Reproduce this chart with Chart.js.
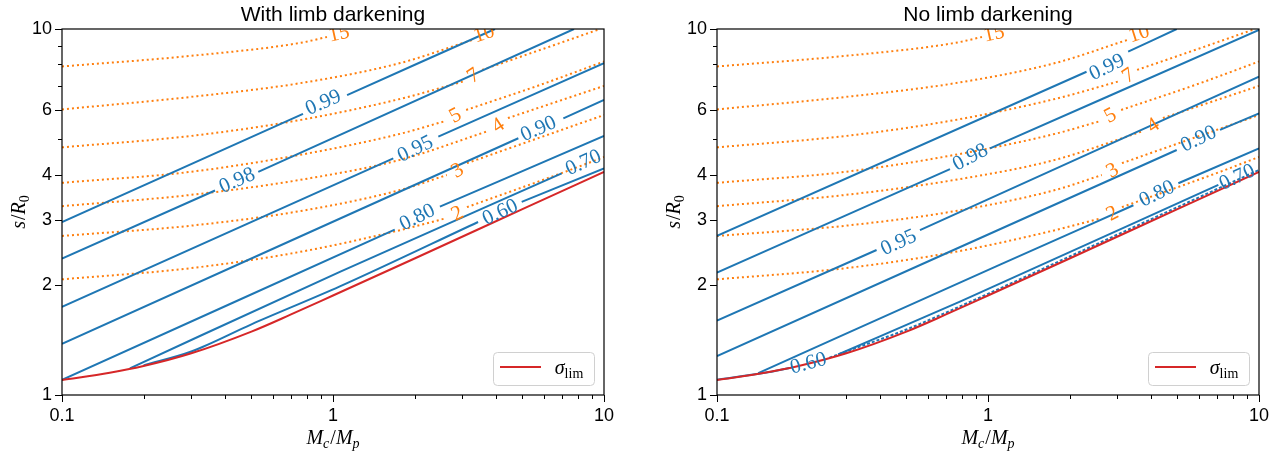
<!DOCTYPE html>
<html>
<head>
<meta charset="utf-8">
<script src="https://cdn.jsdelivr.net/npm/chart.js@4.4.0/dist/chart.umd.min.js"></script>
<style>
  html, body { margin: 0; padding: 0; background: #fff; width: 1281px; height: 454px; overflow: hidden; }
  canvas { position: absolute; top: 0; }
  #chartL { left: 0; }
  #chartR { left: 640px; }
</style>
</head>
<body>
<canvas id="chartL" width="640" height="454"></canvas>
<canvas id="chartR" width="641" height="454"></canvas>
<script>
// axis ticks
const xTicks = [0.1, 1, 10]
const xMinor = [0.2, 0.3, 0.4, 0.5, 0.6, 0.7, 0.8, 0.9, 2, 3, 4, 5, 6, 7, 8, 9]
const yTicks = [1, 2, 3, 4, 6, 10]
const yMinor = [5, 7, 8, 9]

// sigma_lim boundary (same in both panels)
const sigLim = [[0.1, 1.099], [0.15, 1.15], [0.2, 1.20], [0.3, 1.30], [0.5, 1.49], [0.7, 1.66],
  [1, 1.87], [2, 2.36], [5, 3.22], [10, 4.07]]

// orange dotted contours (same in both panels), null = label gap
const dotLevels = ['15', '10', '7', '5', '4', '3', '2']
const dot15 = [[0.1, 7.90], [0.297, 8.44], [0.755, 9.16], [0.95, 9.51]]
const dot10 = [[0.1, 6.03], [0.297, 6.52], [0.755, 7.11], [1.767, 8.07], [3.26, 9.33]]
const dot7 = [[0.1, 4.75], [0.297, 5.10], [0.755, 5.64], [1.767, 6.44], [3.07, 7.21], null, [3.55, 7.73], [5.80, 8.76], [9.67, 10]]
const dot5 = [[0.1, 3.80], [0.297, 4.07], [0.755, 4.53], [1.767, 5.17], [2.61, 5.61], null, [3.10, 6.01], [5.80, 7.03], [10, 8.15]]
const dot4 = [[0.1, 3.28], [0.297, 3.52], [0.755, 3.87], [1.767, 4.39], [3.73, 5.26], null, [4.42, 5.71], [10, 6.99]]
const dot3 = [[0.1, 2.72], [0.297, 2.90], [0.755, 3.18], [1.767, 3.63], [2.63, 3.99], null, [3.12, 4.30], [10, 5.82]]
const dot2 = [[0.1, 2.07], [0.297, 2.22], [0.755, 2.46], [1.767, 2.82], [2.61, 3.04], null, [3.12, 3.26], [7.30, 4.09], [10, 4.47]]
const dotLabelPos = [[1.05, 9.75], [3.60, 9.75], [3.29, 7.48], [2.82, 5.82], [4.06, 5.47], [2.87, 4.12], [2.87, 3.14]]

// blue contours
const blueLevels = ['0.99', '0.98', '0.95', '0.90', '0.80', '0.70', '0.60']

// with limb darkening
const ld99 = [[0.1, 2.97], [0.775, 5.86], null, [1.127, 6.60], [3.96, 10]]
const ld98 = [[0.1, 2.36], [0.367, 3.62], null, [0.530, 4.07], [7.75, 10]]
const ld95 = [[0.1, 1.74], [1.669, 4.43], null, [2.447, 5.08], [10, 8.07]]
const ld90 = [[0.1, 1.38], [4.83, 5.03], null, [7.08, 5.70], [10, 6.40]]
const ld80 = [[0.1, 1.10], [1.69, 2.83], null, [2.48, 3.27], [10, 5.10]]
const ld70 = [[0.178, 1.183], [1.06, 2.17], [6.98, 4.03]]
const ld60 = [[0.2, 1.205], [0.3, 1.315], [0.5, 1.56], [1.06, 1.98], [3.43, 2.97], null, [4.97, 3.37], [10, 4.16]]
const ldLabelPos = [[0.919, 6.32], [0.442, 3.87], [2.007, 4.72], [5.72, 5.36], [2.04, 3.07], [8.37, 4.33], [4.13, 3.17]]

// no limb darkening
const nd99 = [[0.1, 2.72], [2.31, 7.64], null, [3.29, 8.67], [4.97, 10]]
const nd98 = [[0.1, 2.16], [0.724, 4.14], null, [1.017, 4.72], [10, 9.94]]
const nd95 = [[0.1, 1.596], [0.388, 2.49], null, [0.561, 2.82], [10, 7.41]]
const nd90 = [[0.1, 1.278], [4.97, 4.67], null, [7.18, 5.30], [10, 5.88]]
const nd80 = [[0.142, 1.148], [1.108, 2.27], [3.44, 3.30], null, [5.04, 3.79], [10, 4.72]]
const nd70 = [[0.28, 1.29], [0.788, 1.80], [7.08, 3.75]]
const nd60 = [[0.1, 1.10], [0.15, 1.15], [0.185, 1.185], null, [0.26, 1.265]]
const nd60jag = [[0.26, 1.265], [0.3, 1.315], [0.5, 1.51], [0.7, 1.68], [1, 1.89], [2, 2.39], [5, 3.26], [10, 4.12]]
const ndLabelPos = [[2.74, 7.89], [0.858, 4.48], [0.467, 2.62], [5.97, 5.03], [4.19, 3.56], [8.28, 3.95], [0.217, 1.225]]

const BLUE = '#1f77b4'
const ORANGE = '#ff7f0e'
const RED = '#d62728'
const SANS = '"Liberation Sans", Arial, sans-serif'
const SERIF = '"Liberation Serif", "Times New Roman", serif'

const dotLines = [dot15, dot10, dot7, dot5, dot4, dot3, dot2]

function toXY(line) {
  return line.map(p => p ? { x: p[0], y: p[1] } : { x: null, y: null })
}

function lineSet(line, color, extra) {
  return Object.assign({
    data: toXY(line),
    showLine: true,
    borderColor: color,
    borderWidth: 2,
    pointRadius: 0,
    fill: false,
    tension: 0
  }, extra)
}

// draws a run of text pieces, with italics and subscripts, centred on (0,0)
function drawMath(ctx, parts, size) {
  const fontOf = p => (p.it ? 'italic ' : '') + (p.sub ? Math.round(size * 0.7) : size) + 'px ' + SERIF
  let w = 0
  parts.forEach(p => { ctx.font = fontOf(p); w += ctx.measureText(p.t).width + (p.gap || 0) })
  let cx = -w / 2
  ctx.textAlign = 'left'
  ctx.textBaseline = 'alphabetic'
  parts.forEach(p => {
    ctx.font = fontOf(p)
    ctx.fillText(p.t, cx, p.sub ? size * 0.55 : size * 0.35)
    cx += ctx.measureText(p.t).width + (p.gap || 0)
  })
}

const contourLabels = {
  id: 'contourLabels',
  afterDatasetsDraw(chart, args, opts) {
    const { ctx, chartArea: a, scales: { x, y } } = chart
    ctx.save()
    ctx.beginPath()
    ctx.rect(a.left, a.top, a.right - a.left, a.bottom - a.top)
    ctx.clip()
    opts.groups.forEach(g => {
      ctx.fillStyle = g.color
      ctx.font = '21px ' + SERIF
      ctx.textAlign = 'center'
      ctx.textBaseline = 'middle'
      g.texts.forEach((t, i) => {
        const line = g.lines[i]
        const pos = g.pos[i]
        const k = line.indexOf(null)
        const p0 = k > 0 ? line[k - 1] : line[line.length - 2]
        const p1 = k > 0 ? line[k + 1] : line[line.length - 1]
        const ang = Math.atan2(y.getPixelForValue(p1[1]) - y.getPixelForValue(p0[1]),
          x.getPixelForValue(p1[0]) - x.getPixelForValue(p0[0]))
        ctx.save()
        ctx.translate(x.getPixelForValue(pos[0]), y.getPixelForValue(pos[1]))
        ctx.rotate(ang)
        ctx.fillText(t, 0, 1)
        ctx.restore()
      })
    })
    ctx.restore()
  }
}

const axesFrame = {
  id: 'axesFrame',
  afterDraw(chart, args, opts) {
    const { ctx, chartArea: a, scales: { x, y } } = chart
    ctx.save()
    ctx.strokeStyle = '#000'
    ctx.lineWidth = 1.2
    ctx.strokeRect(a.left, a.top, a.right - a.left, a.bottom - a.top)

    ctx.lineWidth = 1
    ctx.beginPath()
    xTicks.forEach(v => { const px = Math.round(x.getPixelForValue(v)) + 0.5; ctx.moveTo(px, a.bottom); ctx.lineTo(px, a.bottom + 7) })
    xMinor.forEach(v => { const px = Math.round(x.getPixelForValue(v)) + 0.5; ctx.moveTo(px, a.bottom); ctx.lineTo(px, a.bottom + 4) })
    yTicks.forEach(v => { const py = Math.round(y.getPixelForValue(v)) + 0.5; ctx.moveTo(a.left, py); ctx.lineTo(a.left - 7, py) })
    yMinor.forEach(v => { const py = Math.round(y.getPixelForValue(v)) + 0.5; ctx.moveTo(a.left, py); ctx.lineTo(a.left - 4, py) })
    ctx.stroke()

    // title
    ctx.fillStyle = '#000'
    ctx.font = '21px ' + SANS
    ctx.textAlign = 'center'
    ctx.textBaseline = 'middle'
    ctx.fillText(opts.title, (a.left + a.right) / 2, 15)

    // axis titles
    ctx.save()
    ctx.translate((a.left + a.right) / 2, 437)
    drawMath(ctx, [{ t: 'M', it: true }, { t: 'c', it: true, sub: true, gap: 1 }, { t: '/' }, { t: 'M', it: true }, { t: 'p', it: true, sub: true }], 20)
    ctx.restore()
    ctx.save()
    ctx.translate(a.left - 44, (a.top + a.bottom) / 2)
    ctx.rotate(-Math.PI / 2)
    drawMath(ctx, [{ t: 's', it: true, gap: 1 }, { t: '/' }, { t: 'R', it: true }, { t: '0', sub: true }], 20)
    ctx.restore()

    // legend
    const bx = a.right - 111, by = a.bottom - 43, bw = 101, bh = 33
    ctx.beginPath()
    ctx.roundRect(bx + 0.5, by + 0.5, bw, bh, 4)
    ctx.fillStyle = 'rgba(255,255,255,0.8)'
    ctx.fill()
    ctx.strokeStyle = '#d0d0d0'
    ctx.lineWidth = 1
    ctx.stroke()
    ctx.beginPath()
    ctx.moveTo(bx + 7, by + 15)
    ctx.lineTo(bx + 48, by + 15)
    ctx.strokeStyle = RED
    ctx.lineWidth = 2
    ctx.stroke()
    ctx.fillStyle = '#000'
    ctx.save()
    ctx.translate(bx + 76, by + 15)
    drawMath(ctx, [{ t: '\u03c3', it: true }, { t: 'lim', sub: true }], 20)
    ctx.restore()
    ctx.restore()
  }
}

function printPanel(canvasId, title, blueLines, bluePos, yWidth, padRight, jag) {
  const datasets = [lineSet(sigLim, RED, { cubicInterpolationMode: 'monotone' })]
  if (jag) datasets.push(lineSet(jag, BLUE, { borderDash: [3, 2], borderWidth: 2, cubicInterpolationMode: 'monotone' }))
  blueLines.forEach(l => datasets.push(lineSet(l, BLUE, { cubicInterpolationMode: 'monotone' })))
  dotLines.forEach(l => datasets.push(lineSet(l, ORANGE, { borderDash: [2, 3], cubicInterpolationMode: 'monotone' })))

  const tickFont = { family: 'Liberation Sans', size: 18 }

  new Chart(canvasId, {
    type: 'scatter',
    data: { datasets },
    options: {
      responsive: false,
      animation: false,
      events: [],
      layout: { padding: { top: 29, right: padRight, left: 0, bottom: 0 } },
      plugins: {
        legend: { display: false },
        tooltip: { enabled: false },
        contourLabels: {
          groups: [
            { color: BLUE, texts: blueLevels, lines: blueLines, pos: bluePos },
            { color: ORANGE, texts: dotLevels, lines: dotLines, pos: dotLabelPos }
          ]
        },
        axesFrame: { title }
      },
      scales: {
        x: {
          type: 'logarithmic', min: 0.1, max: 10,
          grid: { display: false, drawTicks: false },
          border: { display: false },
          afterBuildTicks: s => { s.ticks = xTicks.map(v => ({ value: v })) },
          afterFit: s => { s.height = 59 },
          ticks: { autoSkip: false, maxRotation: 0, padding: 10, color: '#000', font: tickFont, callback: v => String(v) }
        },
        y: {
          type: 'logarithmic', min: 1, max: 10,
          grid: { display: false, drawTicks: false },
          border: { display: false },
          afterBuildTicks: s => { s.ticks = yTicks.map(v => ({ value: v })) },
          afterFit: s => { s.width = yWidth },
          ticks: { autoSkip: false, padding: 10, color: '#000', font: tickFont, callback: v => String(v) }
        }
      }
    },
    plugins: [contourLabels, axesFrame]
  })
}

printPanel('chartL', 'With limb darkening', [ld99, ld98, ld95, ld90, ld80, ld70, ld60], ldLabelPos, 62, 36, null)
printPanel('chartR', 'No limb darkening', [nd99, nd98, nd95, nd90, nd80, nd70, nd60], ndLabelPos, 77, 22, nd60jag)
</script>
</body>
</html>
